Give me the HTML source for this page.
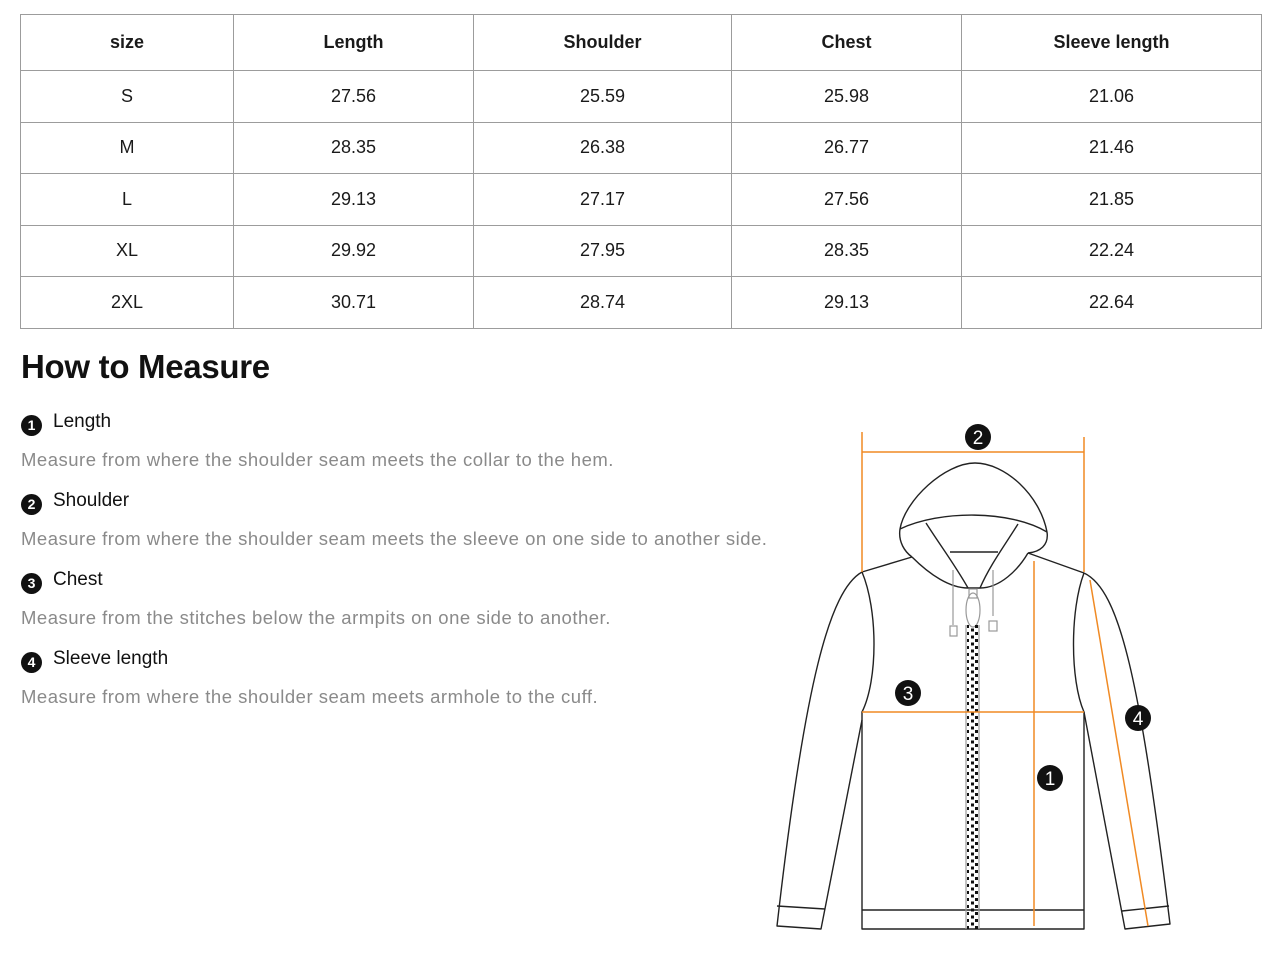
<!DOCTYPE html>
<html><head><meta charset="utf-8"><style>
html,body{margin:0;padding:0;background:#fff;width:1280px;height:964px;overflow:hidden;font-family:"Liberation Sans",Arial,sans-serif;}
table{position:absolute;left:20px;top:14px;border-collapse:collapse;}
td,th{border:1.5px solid #9c9c9c;text-align:center;font-size:18px;color:#1a1a1a;padding:0;}
th{height:55px;font-weight:bold;}
td{height:50.5px;}
.h{position:absolute;left:21px;top:348px;font-size:33px;font-weight:bold;color:#111;letter-spacing:-0.3px;}
.it{position:absolute;left:21px;font-size:19px;color:#111;}
.it b{display:inline-block;width:21px;height:21px;border-radius:50%;background:#111;color:#fff;font-size:14px;text-align:center;line-height:21px;margin-right:11px;vertical-align:-3px;font-weight:bold;}
.d{position:absolute;left:21px;font-size:18.5px;color:#8a8a8a;white-space:nowrap;letter-spacing:0.5px;}
</style></head><body>
<table>
<tr><th style="width:212px">size</th><th style="width:239px">Length</th><th style="width:257px">Shoulder</th><th style="width:229px">Chest</th><th style="width:299px">Sleeve length</th></tr>
<tr><td>S</td><td>27.56</td><td>25.59</td><td>25.98</td><td>21.06</td></tr>
<tr><td>M</td><td>28.35</td><td>26.38</td><td>26.77</td><td>21.46</td></tr>
<tr><td>L</td><td>29.13</td><td>27.17</td><td>27.56</td><td>21.85</td></tr>
<tr><td>XL</td><td>29.92</td><td>27.95</td><td>28.35</td><td>22.24</td></tr>
<tr><td>2XL</td><td>30.71</td><td>28.74</td><td>29.13</td><td>22.64</td></tr>
</table>
<div class="h">How to Measure</div>
<div class="it" style="top:411px"><b>1</b>Length</div>
<div class="d" style="top:449px">Measure from where the shoulder seam meets the collar to the hem.</div>
<div class="it" style="top:490px"><b>2</b>Shoulder</div>
<div class="d" style="top:528px">Measure from where the shoulder seam meets the sleeve on one side to another side.</div>
<div class="it" style="top:569px"><b>3</b>Chest</div>
<div class="d" style="top:607px">Measure from the stitches below the armpits on one side to another.</div>
<div class="it" style="top:648px"><b>4</b>Sleeve length</div>
<div class="d" style="top:686px">Measure from where the shoulder seam meets armhole to the cuff.</div>

<svg width="1280" height="964" style="position:absolute;left:0;top:0" xmlns="http://www.w3.org/2000/svg">
<defs><pattern id="z" x="966" y="625" width="9" height="7" patternUnits="userSpaceOnUse"><rect x="0" y="0" width="3" height="3" fill="#111"/><rect x="5" y="3.5" width="3" height="3" fill="#111"/></pattern></defs>
<g fill="none" stroke="#222" stroke-width="1.4" stroke-linejoin="round">
<path d="M900,529 C905,500 945,463 975,463 C1005,463 1040,495 1047,532"/>
<path d="M900,529 C940,510 1010,510 1047,532"/>
<path d="M900,529 C898,542 905,552 912,557 M1047,532 C1049,545 1040,552 1028,553"/>
<path d="M912,557 C930,575 950,588 968,588 L980,588 C1000,588 1018,570 1028,553"/>
<path d="M926,523 C940,545 955,565 968,588 M1018,524 C1005,545 990,565 980,588"/>
<path d="M950,552 L998,552"/>
<path d="M862,572 L912,557 M1028,553 L1084,573"/>
<path d="M862,572 C878,610 878,680 862,712 L862,929 L1084,929 L1084,712 C1070,680 1070,610 1084,573"/>
<path d="M862,910 L1084,910"/>
<path d="M862,572 C830,590 805,680 777,926 L821,929 L862,720"/>
<path d="M777,906 L825,909"/>
<path d="M1084,573 C1120,590 1140,680 1170,924 L1125,929 L1084,712"/>
<path d="M1122,911 L1169,906"/>
</g>
<g fill="none" stroke="#999" stroke-width="1.2">
<path d="M953,570 L953,625 M993,570 L993,616"/>
<rect x="950" y="626" width="7" height="10"/><rect x="989" y="621" width="8" height="10"/>
<ellipse cx="973" cy="610" rx="7" ry="17"/>
<rect x="969" y="589" width="8" height="9"/>
<path d="M966,625 L966,929 M979,625 L979,929"/>
</g>
<rect x="967" y="625" width="11" height="304" fill="url(#z)"/>
<g stroke="#f08a24" stroke-width="1.5" fill="none">
<path d="M862,432 L862,572 M1084,437 L1084,572 M862,452 L1084,452"/>
<path d="M862,712 L1084,712"/>
<path d="M1034,561 L1034,926"/>
<path d="M1090,580 L1148,926"/>
</g>
<g font-family="Liberation Sans,sans-serif" font-size="19" fill="#fff" text-anchor="middle">
<circle cx="978" cy="437" r="13" fill="#111"/><text x="978" y="444">2</text>
<circle cx="908" cy="693" r="13" fill="#111"/><text x="908" y="700">3</text>
<circle cx="1138" cy="718" r="13" fill="#111"/><text x="1138" y="725">4</text>
<circle cx="1050" cy="778" r="13" fill="#111"/><text x="1050" y="785">1</text>
</g>
</svg>
</body></html>
